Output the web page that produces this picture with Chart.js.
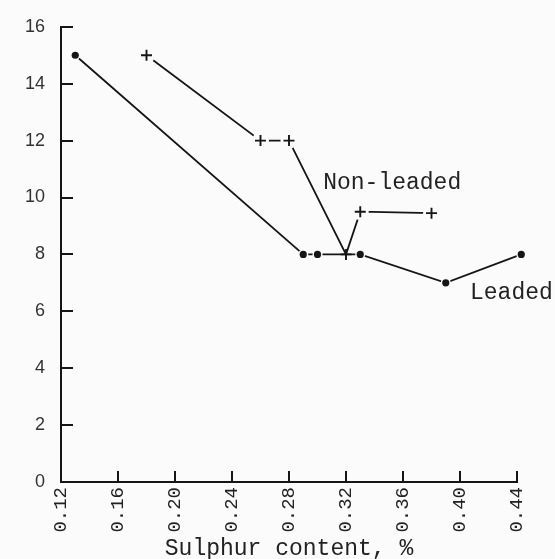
<!DOCTYPE html>
<html>
<head>
<meta charset="utf-8">
<script src="https://cdn.jsdelivr.net/npm/chart.js@4/dist/chart.umd.min.js"></script>
<style>
  html, body { margin: 0; padding: 0; background: #fbfbfb; }
  #wrap { width: 555px; height: 559px; }
</style>
</head>
<body>
<div id="wrap"><canvas id="c" width="555" height="559"></canvas></div>
<script>
// Sulphur content (%) and values for the two fuels
const leadedSulphur = [0.13, 0.29, 0.30, 0.33, 0.39, 0.443];
const leadedValues = [15, 8, 8, 8, 7, 8];
const nonLeadedSulphur = [0.18, 0.26, 0.28, 0.32, 0.33, 0.38];
const nonLeadedValues = [15, 12, 12, 8, 9.5, 9.45];

const xTickValues = [0.12, 0.16, 0.20, 0.24, 0.28, 0.32, 0.36, 0.40, 0.44];
const yTickValues = [0, 2, 4, 6, 8, 10, 12, 14, 16];

const curveLabels = [
  { text: 'Non-leaded', x: 0.304, y: 10.5 },
  { text: 'Leaded', x: 0.407, y: 6.65 }
];

const INK = '#151515';
const PAPER = '#fbfbfb';
const MONO = '"Liberation Mono", "DejaVu Sans Mono", monospace';

const toPoints = (xs, ys) => xs.map((x, i) => ({ x, y: ys[i] }));

// Tick marks pointing into the plot area, plus the curve captions
const inwardTicks = {
  id: 'inwardTicks',
  afterDraw(chart) {
    const { ctx, scales: { x, y } } = chart;
    ctx.save();
    ctx.strokeStyle = INK;
    ctx.lineWidth = 2;
    ctx.beginPath();
    yTickValues.forEach(v => {
      if (v === 0) return;
      const py = Math.round(y.getPixelForValue(v));
      ctx.moveTo(x.left, py);
      ctx.lineTo(x.left + 12, py);
    });
    xTickValues.forEach(v => {
      if (v === xTickValues[0]) return;
      const px = Math.round(x.getPixelForValue(v));
      ctx.moveTo(px, y.bottom);
      ctx.lineTo(px, y.bottom - 11);
    });
    ctx.stroke();

    ctx.fillStyle = '#222';
    ctx.font = '23px ' + MONO;
    ctx.textAlign = 'left';
    ctx.textBaseline = 'middle';
    curveLabels.forEach(l => {
      ctx.fillText(l.text, x.getPixelForValue(l.x), y.getPixelForValue(l.y));
    });
    ctx.restore();
  }
};

// Lines first, then paper-coloured discs that open small gaps round each
// marker, then the markers themselves on top.
const lineOnly = {
  borderColor: INK,
  borderWidth: 1.8,
  pointRadius: 0,
  pointHoverRadius: 0,
  tension: 0,
  clip: false
};
const pointsOnly = {
  showLine: false,
  clip: false,
  pointHoverRadius: 10
};

new Chart(document.getElementById('c'), {
  type: 'line',
  data: {
    datasets: [
      Object.assign({ label: 'Non-leaded', order: 5, data: toPoints(nonLeadedSulphur, nonLeadedValues) }, lineOnly),
      Object.assign({ label: 'Leaded', order: 4, data: toPoints(leadedSulphur, leadedValues) }, lineOnly),
      Object.assign({
        label: 'Non-leaded gaps', order: 3,
        data: toPoints(nonLeadedSulphur, nonLeadedValues),
        pointStyle: 'circle',
        pointRadius: ctx => (ctx.dataIndex === 3 ? 0 : 8.5),
        pointBackgroundColor: PAPER,
        pointBorderWidth: 0
      }, pointsOnly),
      Object.assign({
        label: 'Leaded gaps', order: 3,
        data: toPoints(leadedSulphur, leadedValues),
        pointStyle: 'circle',
        pointRadius: 5,
        pointBackgroundColor: PAPER,
        pointBorderWidth: 0
      }, pointsOnly),
      Object.assign({
        label: 'Leaded points', order: 2,
        data: toPoints(leadedSulphur, leadedValues),
        pointStyle: 'circle',
        pointRadius: 3.6,
        pointBackgroundColor: INK,
        pointBorderWidth: 0
      }, pointsOnly),
      Object.assign({
        label: 'Non-leaded points', order: 1,
        data: toPoints(nonLeadedSulphur, nonLeadedValues),
        pointStyle: 'cross',
        pointRadius: 5.5,
        pointBorderColor: INK,
        pointBorderWidth: 1.9
      }, pointsOnly)
    ]
  },
  options: {
    responsive: false,
    devicePixelRatio: 1,
    animation: false,
    layout: { padding: { top: 24, right: 38, left: 0, bottom: 0 } },
    plugins: {
      legend: { display: false },
      tooltip: { enabled: false }
    },
    scales: {
      x: {
        type: 'linear',
        min: 0.12,
        max: 0.44,
        afterBuildTicks: s => { s.ticks = xTickValues.map(v => ({ value: v })); },
        afterFit: s => { s.height = 77; },
        grid: { display: false, drawTicks: false },
        border: { display: true, color: INK, width: 2 },
        ticks: {
          minRotation: 90,
          maxRotation: 90,
          padding: 5,
          color: '#222',
          font: { family: MONO, size: 19 },
          callback: v => Number(v).toFixed(2)
        },
        title: {
          display: true,
          text: 'Sulphur content, %',
          color: '#222',
          font: { family: MONO, size: 23 },
          padding: { top: 0, bottom: -4 }
        }
      },
      y: {
        min: 0,
        max: 16,
        afterBuildTicks: s => { s.ticks = yTickValues.map(v => ({ value: v })); },
        afterFit: s => { s.width = 61; },
        grid: { display: false, drawTicks: false },
        border: { display: true, color: INK, width: 2 },
        ticks: {
          padding: 16,
          color: '#333',
          font: { family: '"Liberation Sans", Arial, sans-serif', size: 18 }
        }
      }
    }
  },
  plugins: [inwardTicks]
});
</script>
</body>
</html>
